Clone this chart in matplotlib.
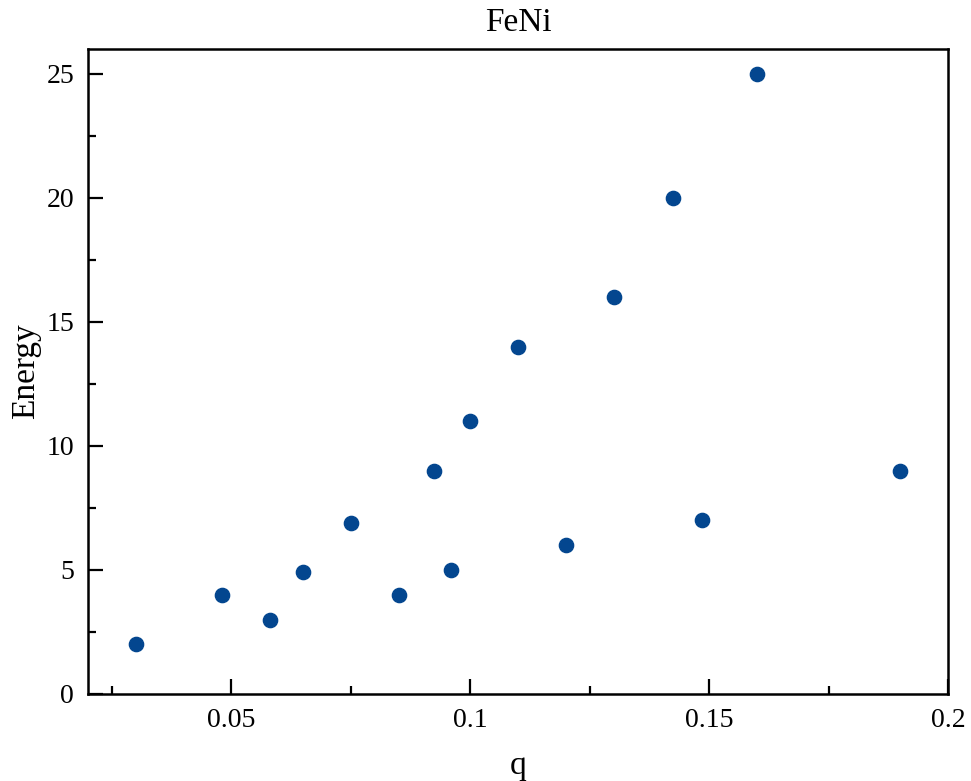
import matplotlib
matplotlib.use('Agg')
import matplotlib.pyplot as plt
from matplotlib.ticker import MultipleLocator

# Data
q = [0.03, 0.048, 0.058, 0.065, 0.075, 0.085, 0.0925, 0.096, 0.1, 0.11,
     0.12, 0.13, 0.1425, 0.1485, 0.16, 0.19]
energy = [2, 4, 3, 4.9, 6.9, 4, 9, 5, 11, 14, 6, 16, 20, 7, 25, 9]
xticks = [0.05, 0.1, 0.15, 0.2]
xticklabels = ['0.05', '0.1', '0.15', '0.2']

plt.rcParams['font.family'] = ['Liberation Serif', 'DejaVu Serif']
plt.rcParams['font.size'] = 20

fig, ax = plt.subplots(figsize=(9.71, 7.81), dpi=100)
fig.subplots_adjust(left=0.0906, right=0.9763, top=0.9373, bottom=0.1114)

ax.scatter(q, energy, s=105, color='#03468F', zorder=3)

ax.set_xlim(0.02, 0.2)
ax.set_ylim(0, 26)
ax.set_xticks(xticks)
ax.set_xticklabels(xticklabels)
ax.xaxis.set_minor_locator(MultipleLocator(0.025))
ax.yaxis.set_major_locator(MultipleLocator(5))
ax.yaxis.set_minor_locator(MultipleLocator(2.5))

ax.tick_params(which='both', direction='in', top=False, right=False, width=1.6,
               labelsize=20)
ax.tick_params(which='major', length=11, pad=10)
ax.tick_params(which='minor', length=6)
for s in ax.spines.values():
    s.set_linewidth(1.8)

ax.set_xlabel('q', fontsize=24, labelpad=13)
ax.set_ylabel('Energy', fontsize=24, labelpad=4)
ax.set_title('FeNi', fontsize=24, pad=13)

fig.savefig('out.png', dpi=100)
